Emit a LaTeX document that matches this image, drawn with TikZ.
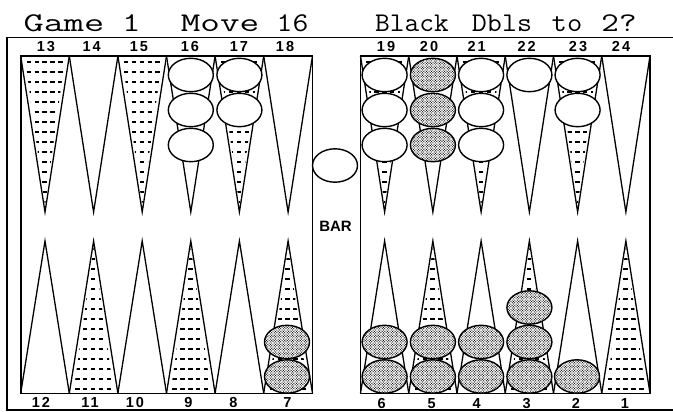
\documentclass[tikz,border=0pt]{standalone}
\usepackage{fontspec}
\usetikzlibrary{shapes.geometric,patterns}
\newfontfamily\labfont[LetterSpace=14]{Liberation Sans}
\newfontfamily\barfont{Liberation Sans}
\pgfdeclarepatternformonly{stipple}{\pgfqpoint{-0.65pt}{-0.65pt}}{\pgfqpoint{1.95pt}{1.95pt}}{\pgfqpoint{2.6pt}{2.6pt}}{%
  \pgfpathcircle{\pgfqpoint{0pt}{0pt}}{0.6pt}%
  \pgfpathcircle{\pgfqpoint{1.3pt}{1.3pt}}{0.6pt}%
  \pgfusepath{fill}}
\begin{document}
\begin{tikzpicture}[x=1pt,y=-1pt,
  title/.style={anchor=base,inner sep=0pt,font=\ttfamily\fontsize{27}{30}\selectfont},
  lab/.style={inner sep=0pt,font=\labfont\bfseries\fontsize{14.5}{14.5}\selectfont},
  frame/.style={line width=1.6pt},
  board/.style={line width=1.6pt},
  pt/.style={line width=1.3pt,line join=miter},
  dashrow/.style={line width=2.5pt,dash pattern=on 4.3pt off 3.6pt,dash phase=2pt},
  wchk/.style={ellipse,draw,line width=1.4pt,fill=white,minimum width=45pt,minimum height=33.4pt,inner sep=0pt},
  bchk/.style={wchk,pattern=stipple,preaction={fill=white}}]
\useasboundingbox (0,0) rectangle (673,412);
\fill[white] (0,0) rectangle (673,412);
% title
\node[title] (t1) at (64,32) {\scalebox{1.45}[1]{Game}};
\node[title] (t2) at (131.5,32) {\scalebox{1.3}[1]{1}};
\node[title] (t3) at (220,32) {\scalebox{1.41}[1]{Move}};
\node[title] (t4) at (292.5,32) {\scalebox{1.14}[1]{16}};
\node[title] (t5) at (412,32) {\scalebox{1.06}[1]{Black}};
\node[title] (t6) at (502,32) {\scalebox{1.08}[1]{Dbls}};
\node[title] (t7) at (567,32) {\scalebox{1.1}[1]{to}};
\node[title] (t8) at (619,32) {\scalebox{1.26}[1]{2?}};
% outer frame
\draw[frame] (673,37.5) -- (7,37.5) -- (7,410) -- (673,410);
% top points
\foreach \x/\w/\d in {20.7/48.6/1, 69.3/48.6/0, 117.9/48.6/1, 166.5/48.6/0, 215.1/48.6/1, 263.7/48.8/0,
                      360.5/48.25/1, 408.75/48.25/0, 457/48.25/1, 505.25/48.25/0, 553.5/48.25/1, 601.75/48.25/0}{
  \draw[pt] (\x,56) -- (\x+\w/2,212) -- (\x+\w,56);
  \ifnum\d=1
  \begin{scope}
    \clip (\x+4,56) -- (\x+\w/2,206) -- (\x+\w-4,56) -- cycle;
    \foreach \yy in {62,72,...,202} \draw[dashrow] (\x,\yy) -- (\x+\w,\yy);
  \end{scope}
  \fi
}
% bottom points
\foreach \x/\w/\d in {20.7/48.6/0, 69.3/48.6/1, 117.9/48.6/0, 166.5/48.6/1, 215.1/48.6/0, 263.7/48.8/1,
                      360.5/48.25/0, 408.75/48.25/1, 457/48.25/0, 505.25/48.25/1, 553.5/48.25/0, 601.75/48.25/1}{
  \draw[pt] (\x,393.3) -- (\x+\w/2,241) -- (\x+\w,393.3);
  \ifnum\d=1
  \begin{scope}
    \clip (\x+4,393.3) -- (\x+\w/2,247) -- (\x+\w-4,393.3) -- cycle;
    \foreach \yy in {389,379,...,249} \draw[dashrow] (\x,\yy) -- (\x+\w,\yy);
  \end{scope}
  \fi
}
% boards
\draw[board] (20.7,56) rectangle (312.5,393.3);
\draw[board] (360.5,56) rectangle (650,393.3);
% point labels
\node[lab] (l13) at (46,46.5) {13};
\node[lab] (l14) at (91.7,46.5) {14};
\node[lab] (l15) at (139,46.5) {15};
\node[lab] (l16) at (190,46.5) {16};
\node[lab] (l17) at (239,46.5) {17};
\node[lab] (l18) at (285,46.5) {18};
\node[lab] (l19) at (386,46.5) {19};
\node[lab] (l20) at (429,46.5) {20};
\node[lab] (l21) at (476.7,46.5) {21};
\node[lab] (l22) at (526.7,46.5) {22};
\node[lab] (l23) at (578,46.5) {23};
\node[lab] (l24) at (621,46.5) {24};
\node[lab] (l12) at (41,402.5) {12};
\node[lab] (l11) at (90,402.5) {11};
\node[lab] (l10) at (135,402.5) {10};
\node[lab] (l9) at (188.3,402.5) {9};
\node[lab] (l8) at (233.3,402.5) {8};
\node[lab] (l7) at (287.3,402.5) {7};
\node[lab] (l6) at (381.7,403.5) {6};
\node[lab] (l5) at (431.7,403.5) {5};
\node[lab] (l4) at (476.7,403.5) {4};
\node[lab] (l3) at (526.7,403.5) {3};
\node[lab] (l2) at (576,403.5) {2};
\node[lab] (l1) at (625,403.5) {1};
% bar
\node[wchk] (barchk) at (335,165.5) {};
\node[inner sep=0pt,font=\barfont\bfseries\fontsize{15}{15}\selectfont] (bar) at (335.5,226.5) {BAR};
% top checkers
\node[wchk] (c16a) at (190.8,75) {};
\node[wchk] (c16b) at (190.8,110) {};
\node[wchk] (c16c) at (190.8,145) {};
\node[wchk] (c17a) at (239.4,75) {};
\node[wchk] (c17b) at (239.4,110) {};
\node[wchk] (c19a) at (384.6,75) {};
\node[wchk] (c19b) at (384.6,110) {};
\node[wchk] (c19c) at (384.6,145) {};
\node[bchk] (c20a) at (432.9,75) {};
\node[bchk] (c20b) at (432.9,110) {};
\node[bchk] (c20c) at (432.9,145) {};
\node[wchk] (c21a) at (481.1,75) {};
\node[wchk] (c21b) at (481.1,110) {};
\node[wchk] (c21c) at (481.1,145) {};
\node[wchk] (c22a) at (529.4,75) {};
\node[wchk] (c23a) at (577.6,75) {};
\node[wchk] (c23b) at (577.6,110) {};
% bottom checkers
\node[bchk] (c7a) at (287,376.5) {};
\node[bchk] (c7b) at (287,342) {};
\node[bchk] (c6a) at (384.6,376.5) {};
\node[bchk] (c6b) at (384.6,342) {};
\node[bchk] (c5a) at (432.9,376.5) {};
\node[bchk] (c5b) at (432.9,342) {};
\node[bchk] (c4a) at (481.1,376.5) {};
\node[bchk] (c4b) at (481.1,342) {};
\node[bchk] (c3a) at (529.4,376.5) {};
\node[bchk] (c3b) at (529.4,342) {};
\node[bchk] (c3c) at (529.4,307.5) {};
\node[bchk] (c2a) at (577,376.5) {};
\end{tikzpicture}
\end{document}
